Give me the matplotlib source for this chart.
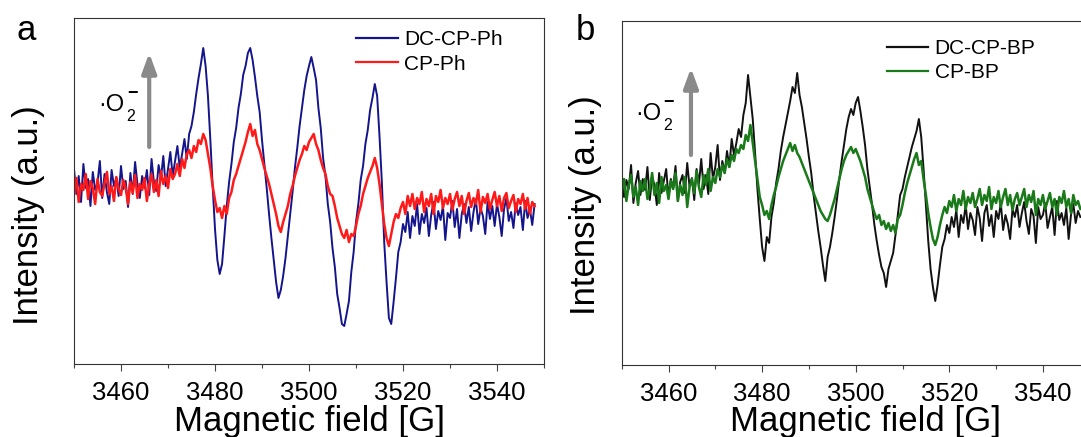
import numpy as np
import matplotlib
import matplotlib.pyplot as plt
from matplotlib.ticker import MultipleLocator

matplotlib.use('Agg')
plt.rcParams['font.family'] = ['Liberation Sans', 'DejaVu Sans']

# magnetic field sweep (G), 0.5 G per sample
field = np.arange(3450, 3548.5, 0.5)

# panel a: intensities (arb. units)
dc_cp_ph = [
    195, 170, 188, 162, 200, 176, 185, 158, 192, 174,
    181, 203, 166, 190, 172, 160, 194, 178, 186, 168,
    198, 175, 183, 157, 191, 170, 202, 180, 166, 188,
    176, 194, 169, 205, 182, 173, 199, 186, 208, 178,
    195, 212, 188, 203, 218, 196, 210, 225, 205, 230,
    238, 252, 270, 286, 300, 316, 298, 268, 225, 178,
    135, 104, 90, 100, 128, 158, 182, 200, 222, 236,
    256, 270, 289, 298, 311, 316, 304, 287, 268, 252,
    224, 200, 176, 150, 126, 104, 82, 66, 74, 88,
    106, 128, 150, 172, 196, 216, 238, 256, 274, 288,
    298, 307, 296, 284, 256, 236, 206, 188, 160, 142,
    116, 97, 70, 56, 40, 38, 50, 63, 92, 112,
    142, 160, 184, 198, 220, 234, 254, 266, 280, 268,
    228, 182, 122, 82, 46, 40, 62, 86, 112, 122,
    140, 132, 152, 126, 148, 138, 160, 130, 150, 141,
    156, 128, 149, 162, 135, 153, 144, 158, 124, 151,
    146, 163, 137, 155, 126, 150, 160, 141, 157, 133,
    152, 165, 140, 156, 148, 130, 162, 145, 158, 138,
    160, 147, 128, 155, 166, 143, 152, 136, 161, 149,
    157, 134, 163, 146, 155, 139, 160,
]
cp_ph = [
    170, 186, 162, 180, 174, 190, 165, 183, 176, 160,
    185, 172, 168, 181, 192, 170, 178, 163, 187, 175,
    169, 184, 176, 160, 182, 171, 189, 166, 180, 174,
    186, 163, 179, 190, 172, 184, 168, 193, 180, 188,
    176, 195, 185, 190, 200, 188, 205, 196, 210, 214,
    206, 218, 212, 224, 220, 230, 224, 210, 196, 178,
    164, 152, 156, 146, 158, 150, 166, 172, 184, 190,
    198, 206, 214, 222, 232, 240, 228, 234, 220, 214,
    205, 196, 188, 180, 170, 160, 150, 138, 132, 142,
    150, 158, 170, 178, 188, 196, 204, 210, 218, 214,
    222, 226, 230, 220, 214, 204, 196, 190, 178, 170,
    168, 158, 146, 138, 130, 126, 134, 122, 130, 128,
    138, 150, 158, 170, 178, 186, 192, 198, 206, 196,
    180, 160, 140, 126, 118, 130, 142, 150, 146, 156,
    162, 150, 168, 158, 170, 155, 166, 160, 172, 152,
    165, 158, 170, 150, 168, 162, 174, 156, 166, 160,
    170, 154, 165, 172, 158, 168, 150, 163, 171, 157,
    166, 160, 174, 152, 167, 161, 170, 155, 164, 172,
    158, 168, 153, 166, 171, 156, 163, 169, 152, 165,
    160, 170, 155, 166, 150, 162, 158,
]

# panel b
dc_cp_bp = [
    190, 168, 185, 176, 200, 162, 182, 194, 170, 186,
    175, 198, 165, 188, 180, 160, 192, 172, 184, 196,
    168, 186, 177, 199, 164, 183, 190, 172, 202, 178,
    187, 165, 196, 181, 206, 176, 190, 171, 212, 186,
    198, 220, 185, 204, 192, 214, 198, 226, 210, 222,
    236, 228, 250, 262, 290, 268, 246, 212, 176, 146,
    118, 104, 128, 122, 148, 162, 182, 196, 214, 228,
    240, 252, 264, 278, 272, 292, 270, 258, 242, 226,
    208, 192, 170, 152, 134, 118, 100, 84, 108, 118,
    132, 148, 166, 186, 204, 220, 236, 248, 256, 250,
    262, 268, 254, 238, 220, 196, 178, 160, 140, 124,
    110, 98, 92, 78, 96, 104, 112, 130, 150, 170,
    176, 188, 198, 208, 218, 226, 234, 246, 228, 196,
    160, 124, 96, 78, 64, 80, 100, 118, 126, 140,
    132, 148, 138, 155, 128, 150, 142, 160, 136, 152,
    145, 130, 158, 147, 124, 152, 160, 139, 150, 128,
    154, 146, 162, 135, 150, 141, 126, 156, 148, 160,
    138, 152, 163, 144, 131, 156, 149, 122, 158, 146,
    150, 162, 137, 148, 158, 130, 164, 145, 152, 140,
    157, 126, 150, 161, 142, 154, 148,
]
cp_bp = [
    172, 186, 164, 180, 190, 168, 178, 160, 184, 174,
    186, 166, 176, 192, 170, 182, 162, 188, 174, 180,
    166, 184, 176, 192, 164, 180, 170, 188, 158, 178,
    186, 172, 194, 178, 168, 190, 180, 196, 174, 188,
    182, 196, 188, 200, 192, 206, 198, 210, 204, 216,
    212, 220, 216, 230, 224, 240, 222, 204, 186, 168,
    160, 150, 154, 146, 160, 170, 178, 188, 196, 204,
    210, 216, 222, 214, 220, 212, 208, 202, 196, 190,
    184, 178, 172, 166, 160, 154, 150, 146, 144, 150,
    158, 166, 176, 186, 196, 204, 210, 214, 218, 212,
    216, 210, 204, 196, 188, 176, 168, 160, 152, 146,
    150, 140, 144, 136, 142, 134, 140, 132, 146, 150,
    160, 172, 182, 190, 198, 206, 212, 200, 204, 186,
    170, 152, 138, 126, 120, 128, 140, 150, 158, 152,
    164, 158, 170, 154, 166, 160, 174, 156, 168, 162,
    172, 158, 166, 176, 160, 170, 164, 178, 156, 168,
    162, 174, 158, 168, 176, 160, 170, 155, 166, 172,
    160, 168, 176, 158, 170, 163, 174, 150, 166, 160,
    170, 156, 164, 172, 158, 166, 150, 168, 162, 174,
    158, 166, 152, 170, 160, 164, 156,
]

xticks = [3460, 3480, 3500, 3520, 3540]

W, H = 1081, 437
fig = plt.figure(figsize=(W / 100, H / 100), dpi=100)
ax_a = fig.add_axes([74 / W, 1 - 364 / H, 470 / W, 346 / H])
ax_b = fig.add_axes([621.7 / W, 1 - 365 / H, 468 / W, 344 / H])


def style_axes(ax, ytop):
    ax.set_xlim(3450, 3550)
    ax.set_ylim(0, ytop)
    ax.set_xticks(xticks)
    ax.xaxis.set_minor_locator(MultipleLocator(10))
    ax.set_yticks([])
    ax.tick_params(axis='x', which='major', direction='out', length=5, width=0.8,
                   labelsize=18.5, pad=7, color='#444444')
    ax.tick_params(axis='x', which='minor', direction='out', length=3, width=0.8,
                   color='#444444')
    for s in ax.spines.values():
        s.set_linewidth(0.8)
        s.set_color('#333333')


def o2_label(ax, x, y):
    # ·O2− : big O, small 2 below, dash above
    ax.annotate('·O', (x, y), fontsize=17, ha='right', va='center')
    ax.annotate('2', (x, y), xytext=(1, -8), textcoords='offset points',
                fontsize=11.5, ha='left', va='center')
    ax.annotate('−', (x, y), xytext=(1.5, 8), textcoords='offset points',
                fontsize=13, ha='left', va='center', fontweight='bold')


style_axes(ax_a, 346)
style_axes(ax_b, 344)

ax_a.plot(field, dc_cp_ph, color='#14148c', lw=1.4, label='DC-CP-Ph')
ax_a.plot(field, cp_ph, color='#ff1a1a', lw=1.8, label='CP-Ph')
ax_b.plot(field, dc_cp_bp, color='#111111', lw=1.4, label='DC-CP-BP')
ax_b.plot(field, cp_bp, color='#1a7a1a', lw=1.8, label='CP-BP')

ax_a.legend(loc='upper left', bbox_to_anchor=(0.600, 0.964), frameon=False, fontsize=15,
            handlelength=2.0, handletextpad=0.3, labelspacing=0.25, borderpad=0, borderaxespad=0)
ax_b.legend(loc='upper left', bbox_to_anchor=(0.566, 0.948), frameon=False, fontsize=15,
            handlelength=2.0, handletextpad=0.3, labelspacing=0.25, borderpad=0, borderaxespad=0)
for leg in (ax_a.get_legend(), ax_b.get_legend()):
    for ln in leg.get_lines():
        ln.set_linewidth(1.6)

arrow = dict(arrowstyle='-|>,head_length=0.6,head_width=0.22', lw=3, color='#8a8a8a',
             mutation_scale=20, shrinkA=0, shrinkB=0)
ax_a.annotate('', xy=(3466, 311), xytext=(3466, 217), arrowprops=arrow)
ax_b.annotate('', xy=(3464.8, 297), xytext=(3464.8, 210), arrowprops=arrow)
o2_label(ax_a, 3460.8, 259)
o2_label(ax_b, 3458.5, 251)

for ax, lx, ly in [(ax_a, 0.5, -0.195), (ax_b, 0.522, -0.193)]:
    ax.set_xlabel('Magnetic field [G]', fontsize=25, va='baseline')
    ax.xaxis.set_label_coords(lx, ly)
ax_a.set_ylabel('Intensity (a.u.)', fontsize=25, va='center')
ax_a.yaxis.set_label_coords((29 - 74) / 470, 0.43)
ax_b.set_ylabel('Intensity (a.u.)', fontsize=25, va='center')
ax_b.yaxis.set_label_coords((586 - 621.7) / 468, 0.465)

fig.text(26 / W, 1 - 30 / H, 'a', fontsize=25, ha='center', va='center')
fig.text(585 / W, 1 - 30 / H, 'b', fontsize=25, ha='center', va='center')

fig.savefig('out.png', dpi=100)
